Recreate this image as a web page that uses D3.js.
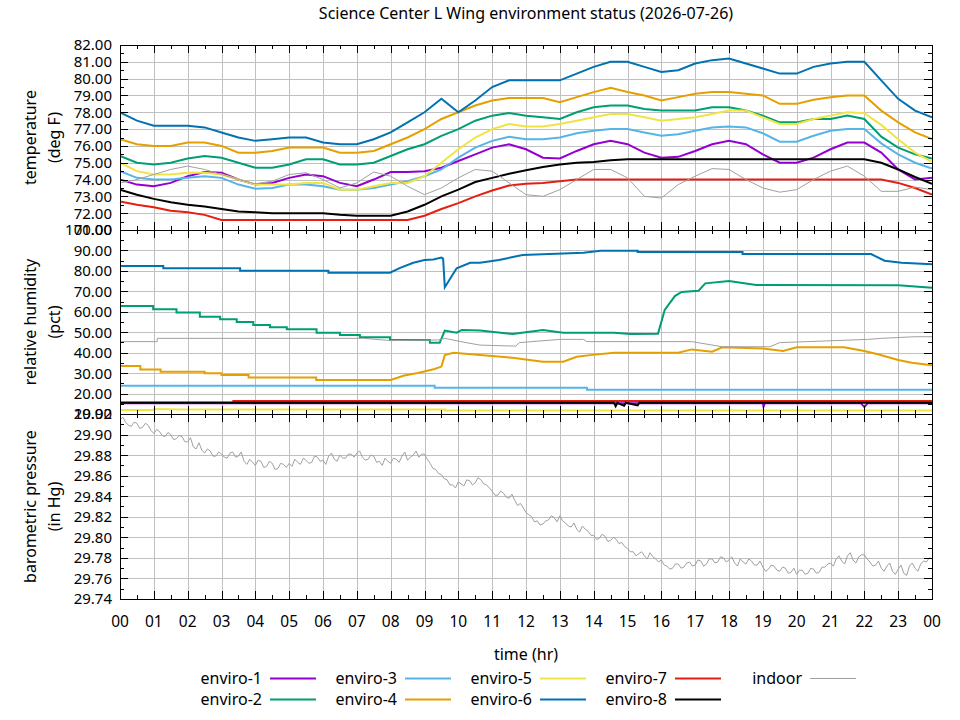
<!DOCTYPE html>
<html>
<head>
<meta charset="utf-8">
<title>Science Center L Wing environment status</title>
<script src="https://d3js.org/d3.v7.min.js"></script>
<style>
  body { margin: 0; background: #fff; }
  svg { font-family: "Noto Sans", "Open Sans", sans-serif; }
</style>
</head>
<body>
<svg id="chart" width="960" height="720"></svg>
<script>
// Science Center L Wing environment status - three stacked panels sharing one time axis

const chartTitle = 'Science Center L Wing environment status (2026-07-26)';
const seriesNames = ['enviro-1', 'enviro-2', 'enviro-3', 'enviro-4', 'enviro-5', 'enviro-6', 'enviro-7', 'enviro-8', 'indoor'];
const seriesColors = ['#9400d3', '#009e73', '#56b4e9', '#e69f00', '#f0e442', '#0072b2', '#e51e10', '#000000', '#a0a0a0'];

// tick labels
const hourTicks = [0, 1, 2, 3, 4, 5, 6, 7, 8, 9, 10, 11, 12, 13, 14, 15, 16, 17, 18, 19, 20, 21, 22, 23, 24];
const tempTicks = [71, 72, 73, 74, 75, 76, 77, 78, 79, 80, 81, 82];
const humidityTicks = [10, 20, 30, 40, 50, 60, 70, 80, 90, 100];
const pressureTicks = [29.74, 29.76, 29.78, 29.80, 29.82, 29.84, 29.86, 29.88, 29.90, 29.92];

// temperature (deg F), one reading every half hour from 00:00 to 24:00
const temp1 = [74.0, 73.7, 73.6, 73.8, 74.2, 74.45, 74.4, 74.0, 73.7, 73.8, 74.1, 74.3, 74.2, 73.8, 73.6, 74.0, 74.45, 74.45, 74.5, 74.7, 75.1, 75.5, 75.9, 76.1, 75.8, 75.3, 75.25, 75.7, 76.1, 76.3, 76.1, 75.6, 75.3, 75.35, 75.7, 76.1, 76.3, 76.1, 75.5, 75.0, 75.0, 75.3, 75.8, 76.2, 76.2, 75.6, 74.6, 74.0, 74.1];
const temp2 = [75.4, 75.0, 74.9, 75.0, 75.25, 75.4, 75.3, 75.0, 74.7, 74.7, 74.9, 75.2, 75.2, 74.9, 74.9, 75.0, 75.4, 75.8, 76.1, 76.6, 77.0, 77.5, 77.8, 77.95, 77.8, 77.7, 77.6, 78.0, 78.3, 78.4, 78.4, 78.2, 78.1, 78.1, 78.1, 78.3, 78.3, 78.1, 77.8, 77.4, 77.4, 77.6, 77.6, 77.8, 77.6, 76.55, 75.9, 75.5, 75.25];
const temp3 = [74.5, 74.1, 74.0, 74.0, 74.1, 74.2, 74.1, 73.7, 73.45, 73.5, 73.7, 73.7, 73.6, 73.4, 73.4, 73.5, 73.7, 73.9, 74.2, 74.6, 75.3, 75.9, 76.3, 76.55, 76.4, 76.4, 76.5, 76.75, 76.9, 77.0, 77.0, 76.8, 76.6, 76.7, 76.9, 77.1, 77.15, 77.1, 76.75, 76.25, 76.25, 76.6, 76.9, 77.0, 77.0, 76.15, 75.5, 75.0, 74.65];
const temp4 = [76.4, 76.1, 76.0, 76.0, 76.2, 76.2, 76.0, 75.6, 75.6, 75.7, 75.9, 75.9, 75.9, 75.6, 75.6, 75.7, 76.1, 76.5, 77.0, 77.6, 78.0, 78.4, 78.7, 78.85, 78.85, 78.85, 78.6, 78.9, 79.2, 79.45, 79.2, 79.0, 78.7, 78.9, 79.1, 79.2, 79.2, 79.1, 79.0, 78.5, 78.5, 78.75, 78.9, 79.0, 79.0, 78.1, 77.4, 76.8, 76.4];
const temp5 = [75.0, 74.5, 74.3, 74.3, 74.4, 74.4, 74.3, 74.0, 73.7, 73.7, 73.7, 73.8, 73.8, 73.4, 73.4, 73.6, 73.8, 73.8, 74.2, 75.0, 75.8, 76.5, 77.0, 77.3, 77.15, 77.15, 77.3, 77.5, 77.7, 77.9, 77.9, 77.7, 77.5, 77.6, 77.7, 77.9, 78.1, 78.1, 77.7, 77.3, 77.3, 77.6, 77.8, 78.0, 77.95, 77.25, 76.4, 75.6, 75.05];
const temp6 = [78.0, 77.5, 77.2, 77.2, 77.2, 77.1, 76.8, 76.5, 76.3, 76.4, 76.5, 76.5, 76.2, 76.1, 76.1, 76.4, 76.8, 77.4, 78.0, 78.8, 78.0, 78.7, 79.5, 79.9, 79.9, 79.9, 79.9, 80.3, 80.7, 81.0, 81.0, 80.7, 80.4, 80.5, 80.9, 81.1, 81.2, 80.9, 80.6, 80.3, 80.3, 80.7, 80.9, 81.0, 81.0, 79.9, 78.8, 78.1, 77.7];
const temp7 = [72.7, 72.5, 72.35, 72.15, 72.05, 71.9, 71.6, 71.6, 71.6, 71.6, 71.6, 71.6, 71.6, 71.6, 71.6, 71.6, 71.6, 71.6, 71.85, 72.25, 72.6, 73.0, 73.35, 73.65, 73.75, 73.8, 73.9, 74.0, 74.0, 74.0, 74.0, 74.0, 74.0, 74.0, 74.0, 74.0, 74.0, 74.0, 74.0, 74.0, 74.0, 74.0, 74.0, 74.0, 74.0, 74.0, 73.8, 73.5, 73.1];
const temp8 = [73.4, 73.1, 72.85, 72.65, 72.5, 72.4, 72.25, 72.1, 72.05, 72.0, 72.0, 72.0, 72.0, 71.9, 71.85, 71.85, 71.85, 72.1, 72.5, 73.0, 73.4, 73.85, 74.1, 74.35, 74.55, 74.75, 74.9, 75.0, 75.05, 75.15, 75.2, 75.2, 75.2, 75.2, 75.2, 75.2, 75.2, 75.2, 75.2, 75.2, 75.2, 75.2, 75.2, 75.2, 75.2, 75.0, 74.6, 74.15, 73.75];
const tempIndoor = [73.8, 74.0, 74.3, 74.6, 74.8, 74.6, 74.3, 74.0, 73.75, 73.9, 74.3, 74.4, 74.0, 73.5, 73.8, 74.45, 74.2, 73.6, 73.1, 73.5, 74.1, 74.6, 74.5, 73.8, 73.1, 73.0, 73.4, 74.0, 74.6, 74.6, 74.1, 73.0, 72.9, 73.7, 74.2, 74.65, 74.6, 74.0, 73.5, 73.25, 73.4, 74.0, 74.5, 74.8, 74.2, 73.3, 73.3, 73.55, 73.4];

// relative humidity (pct), [hour, value] breakpoints
const hum1 = [[0, 15.3], [19.0, 15.3], [19.02, 13.6], [19.06, 15.3], [21.9, 15.3], [22.0, 13.4], [22.1, 15.3], [24, 15.3]];
const hum2 = [[0, 62.8], [0.98, 62.8], [0.98, 61.2], [1.67, 61.2], [1.67, 59.6], [2.36, 59.6], [2.36, 57.6], [2.96, 57.6], [2.96, 56.3], [3.45, 56.3], [3.45, 55.0], [3.94, 55.0], [3.94, 53.5], [4.43, 53.5], [4.43, 52.4], [4.93, 52.4], [4.93, 51.4], [5.81, 51.4], [5.81, 49.8], [6.5, 49.8], [6.5, 48.6], [7.09, 48.6], [7.09, 47.5], [7.98, 47.5], [7.98, 46.2], [9.16, 46.2], [9.16, 44.9], [9.45, 44.9], [9.6, 50.8], [9.95, 49.8], [10.1, 51.1], [10.64, 50.8], [11.6, 49.1], [12.5, 51.1], [13.1, 49.8], [14.6, 49.8], [15.1, 49.1], [15.9, 49.3], [16.1, 60.9], [16.4, 67.7], [16.6, 69.7], [17.1, 70.3], [17.3, 73.9], [18.0, 75.0], [18.8, 73.1], [23.0, 73.0], [24, 71.8]];
const hum3 = [[0, 23.8], [9.3, 23.8], [9.3, 22.9], [13.8, 22.9], [13.8, 21.9], [24, 21.9]];
const hum4 = [[0, 33.5], [0.6, 33.5], [0.6, 31.8], [1.2, 31.8], [1.2, 30.7], [2.5, 30.7], [2.5, 29.9], [3.0, 29.9], [3.0, 29.1], [3.8, 29.1], [3.8, 27.9], [5.8, 27.9], [5.8, 26.6], [8.0, 26.6], [8.4, 28.8], [8.8, 30.1], [9.3, 32.0], [9.5, 33.2], [9.6, 38.8], [9.85, 40.0], [10.64, 38.8], [11.6, 37.5], [12.5, 35.6], [13.1, 35.6], [13.5, 38.0], [13.9, 38.8], [14.6, 40.0], [16.5, 40.0], [16.9, 41.6], [17.5, 40.5], [17.8, 42.6], [19.0, 42.0], [19.6, 40.8], [20.0, 42.6], [21.4, 42.6], [22.0, 40.8], [22.4, 39.2], [23.0, 36.4], [23.4, 35.1], [24, 33.8]];
const hum5 = [[0, 11.9], [1.0, 11.9], [1.0, 12.4], [1.8, 12.2], [9.6, 12.2], [9.6, 11.7], [24, 11.7]];
const hum6 = [[0, 82.4], [1.28, 82.4], [1.28, 81.3], [3.55, 81.3], [3.55, 80.1], [6.16, 80.1], [6.16, 79.1], [7.98, 79.1], [8.28, 81.5], [8.67, 84.0], [9.0, 85.3], [9.26, 85.6], [9.5, 86.5], [9.55, 86.0], [9.6, 72.0], [9.95, 81.3], [10.35, 84.0], [10.64, 84.0], [11.2, 85.3], [11.9, 87.8], [13.7, 88.9], [14.2, 89.9], [15.3, 89.9], [15.3, 89.2], [18.4, 89.2], [18.4, 88.2], [22.2, 88.2], [22.6, 85.0], [23.1, 84.0], [24, 83.3]];
const hum7 = [[0, 15.6], [3.35, 15.6], [3.35, 16.3], [24, 16.3]];
const hum8 = [[0, 15.5], [14.6, 15.5], [14.65, 13.8], [14.7, 15.5], [14.9, 14.0], [14.95, 15.5], [15.3, 14.2], [15.35, 15.5], [24, 15.5]];
const humIndoor = [[0, 45.4], [1.1, 45.4], [1.1, 47.0], [7.2, 47.0], [8.0, 45.9], [9.4, 46.2], [9.6, 47.0], [10.2, 45.0], [10.64, 43.7], [11.7, 43.2], [11.8, 44.9], [13.0, 46.5], [13.7, 46.5], [13.8, 45.4], [16.9, 45.4], [17.8, 42.9], [19.2, 42.9], [19.5, 44.9], [22.1, 46.5], [22.5, 47.0], [23.5, 47.8], [24, 47.8]];

// barometric pressure (in Hg), indoor only, one reading every 5 minutes (12 per row = 1 hour)
const pressureIndoor = [
  29.914, 29.917, 29.912, 29.909, 29.908, 29.912, 29.911, 29.906, 29.907, 29.911, 29.909, 29.904,
  29.901, 29.905, 29.903, 29.899, 29.898, 29.902, 29.900, 29.895, 29.896, 29.899, 29.898, 29.893,
  29.893, 29.897, 29.888, 29.886, 29.892, 29.885, 29.882, 29.886, 29.884, 29.879, 29.879, 29.883,
  29.881, 29.878, 29.877, 29.882, 29.883, 29.878, 29.879, 29.883, 29.874, 29.871, 29.876, 29.873,
  29.870, 29.875, 29.874, 29.868, 29.869, 29.874, 29.872, 29.866, 29.867, 29.872, 29.871, 29.868,
  29.872, 29.869, 29.876, 29.873, 29.871, 29.877, 29.875, 29.872, 29.873, 29.879, 29.878, 29.874,
  29.875, 29.871, 29.879, 29.882, 29.876, 29.874, 29.880, 29.877, 29.877, 29.881, 29.881, 29.878,
  29.882, 29.884, 29.878, 29.875, 29.876, 29.880, 29.879, 29.873, 29.874, 29.870, 29.877, 29.874,
  29.872, 29.877, 29.876, 29.873, 29.879, 29.883, 29.875, 29.878, 29.880, 29.884, 29.878, 29.881,
  29.881, 29.876, 29.872, 29.867, 29.866, 29.862, 29.861, 29.857, 29.856, 29.851, 29.851, 29.848,
  29.854, 29.852, 29.850, 29.856, 29.855, 29.851, 29.853, 29.858, 29.856, 29.852, 29.851, 29.848,
  29.845, 29.841, 29.841, 29.845, 29.843, 29.839, 29.838, 29.842, 29.836, 29.831, 29.833, 29.829,
  29.824, 29.822, 29.820, 29.815, 29.816, 29.812, 29.813, 29.816, 29.817, 29.821, 29.819, 29.815,
  29.821, 29.816, 29.814, 29.811, 29.810, 29.814, 29.808, 29.805, 29.811, 29.808, 29.806, 29.802,
  29.802, 29.798, 29.799, 29.803, 29.801, 29.796, 29.797, 29.800, 29.798, 29.794, 29.795, 29.791,
  29.789, 29.786, 29.786, 29.782, 29.784, 29.786, 29.782, 29.779, 29.785, 29.781, 29.779, 29.776,
  29.778, 29.773, 29.772, 29.769, 29.770, 29.774, 29.774, 29.770, 29.771, 29.775, 29.776, 29.772,
  29.773, 29.778, 29.777, 29.772, 29.774, 29.779, 29.779, 29.775, 29.776, 29.781, 29.780, 29.776,
  29.778, 29.781, 29.775, 29.772, 29.779, 29.776, 29.774, 29.779, 29.777, 29.773, 29.773, 29.777,
  29.771, 29.767, 29.769, 29.773, 29.772, 29.768, 29.767, 29.771, 29.770, 29.765, 29.766, 29.770,
  29.764, 29.768, 29.768, 29.764, 29.765, 29.770, 29.769, 29.765, 29.766, 29.771, 29.771, 29.774,
  29.775, 29.772, 29.779, 29.782, 29.777, 29.774, 29.782, 29.785, 29.778, 29.775, 29.781, 29.783,
  29.783, 29.779, 29.776, 29.772, 29.773, 29.777, 29.770, 29.767, 29.772, 29.775, 29.767, 29.764,
  29.769, 29.773, 29.765, 29.763, 29.772, 29.775, 29.770, 29.767, 29.774, 29.777, 29.776, 29.780,
  29.779
];

// Layout
const left = 120;
const right = 932;
const tickMajor = 8;
const tickMinor = 4;

const svg = d3.select('#chart');

const x = d3.scaleLinear().domain([0, 24]).range([left, right]);

// pair each reading up with its time of day
const halfHourly = values => values.map((v, i) => [i * 0.5, v]);
const fiveMinutely = values => values.map((v, i) => [i / 12, v]);

const panels = [
  {
    top: 45, bottom: 230, domain: [71, 82], ticks: tempTicks, minorStep: 0.5,
    label: ['temperature', '(deg F)'],
    series: [temp1, temp2, temp3, temp4, temp5, temp6, temp7, temp8, tempIndoor].map(halfHourly)
  },
  {
    top: 230, bottom: 414, domain: [10, 100], ticks: humidityTicks, minorStep: 5,
    label: ['relative humidity', '(pct)'],
    series: [hum1, hum2, hum3, hum4, hum5, hum6, hum7, hum8, humIndoor]
  },
  {
    top: 414, bottom: 599, domain: [29.74, 29.92], ticks: pressureTicks, minorStep: 0.01,
    label: ['barometric pressure', '(in Hg)'],
    series: [null, null, null, null, null, null, null, null, fiveMinutely(pressureIndoor)]
  }
];

// Title
svg.append('text')
  .attr('x', (left + right) / 2)
  .attr('y', 19)
  .attr('text-anchor', 'middle')
  .style('font-size', '16px')
  .style('fill', '#000')
  .text(chartTitle);

// minor hour ticks sit halfway between the labelled hours
const halfHours = hourTicks.slice(0, -1).map(h => h + 0.5);

panels.forEach((p, pi) => {
  const y = d3.scaleLinear().domain(p.domain).range([p.bottom, p.top]);
  const g = svg.append('g').attr('class', 'panel');

  // grid
  g.append('g').selectAll('line.vgrid')
    .data(hourTicks.slice(1, -1))
    .enter().append('line')
    .attr('x1', d => Math.round(x(d)) + 0.5).attr('x2', d => Math.round(x(d)) + 0.5)
    .attr('y1', p.top).attr('y2', p.bottom)
    .attr('stroke', '#c0c0c0').attr('stroke-width', 1);

  g.append('g').selectAll('line.hgrid')
    .data(p.ticks.slice(1, -1))
    .enter().append('line')
    .attr('x1', left).attr('x2', right)
    .attr('y1', d => Math.round(y(d)) + 0.5).attr('y2', d => Math.round(y(d)) + 0.5)
    .attr('stroke', '#c0c0c0').attr('stroke-width', 1);

  // clip region for the data lines
  const clipId = 'clip' + pi;
  svg.append('defs').append('clipPath')
    .attr('id', clipId)
    .append('rect')
    .attr('x', left).attr('y', p.top)
    .attr('width', right - left).attr('height', p.bottom - p.top);

  const line = d3.line()
    .x(d => x(d[0]))
    .y(d => y(d[1]));

  const lines = g.append('g').attr('clip-path', `url(#${clipId})`);
  p.series.forEach((s, si) => {
    if (!s) return;
    lines.append('path')
      .datum(s)
      .attr('d', line)
      .attr('fill', 'none')
      .attr('stroke', seriesColors[si])
      .attr('stroke-width', si === 8 ? 1 : 2)
      .attr('stroke-linejoin', 'miter');
  });

  // ticks, drawn inward on all four sides
  const ticks = g.append('g').attr('stroke', '#000').attr('stroke-width', 1);
  hourTicks.forEach(h => {
    const xx = Math.round(x(h)) + 0.5;
    ticks.append('line').attr('x1', xx).attr('x2', xx).attr('y1', p.top).attr('y2', p.top + tickMajor);
    ticks.append('line').attr('x1', xx).attr('x2', xx).attr('y1', p.bottom).attr('y2', p.bottom - tickMajor);
  });
  halfHours.forEach(h => {
    const xx = Math.round(x(h)) + 0.5;
    ticks.append('line').attr('x1', xx).attr('x2', xx).attr('y1', p.top).attr('y2', p.top + tickMinor);
    ticks.append('line').attr('x1', xx).attr('x2', xx).attr('y1', p.bottom).attr('y2', p.bottom - tickMinor);
  });
  p.ticks.forEach(t => {
    const yy = Math.round(y(t)) + 0.5;
    ticks.append('line').attr('x1', left).attr('x2', left + tickMajor).attr('y1', yy).attr('y2', yy);
    ticks.append('line').attr('x1', right).attr('x2', right - tickMajor).attr('y1', yy).attr('y2', yy);
  });
  p.ticks.slice(0, -1).forEach(t => {
    const yy = Math.round(y(t + p.minorStep)) + 0.5;
    ticks.append('line').attr('x1', left).attr('x2', left + tickMinor).attr('y1', yy).attr('y2', yy);
    ticks.append('line').attr('x1', right).attr('x2', right - tickMinor).attr('y1', yy).attr('y2', yy);
  });

  // border
  g.append('rect')
    .attr('x', left + 0.5).attr('y', p.top + 0.5)
    .attr('width', right - left).attr('height', p.bottom - p.top)
    .attr('fill', 'none')
    .attr('stroke', '#000')
    .attr('stroke-width', 1);

  // y tick labels (the ones on shared borders overprint, as in the original)
  g.append('g').selectAll('text')
    .data(p.ticks)
    .enter().append('text')
    .attr('x', 112)
    .attr('y', d => y(d))
    .attr('dy', '0.36em')
    .attr('text-anchor', 'end')
    .style('font-size', '15px')
    .style('fill', '#000')
    .text(d => d3.format('.2f')(d));

  // y axis title on two lines
  const mid = (p.top + p.bottom) / 2;
  p.label.forEach((txt, li) => {
    g.append('text')
      .attr('transform', `translate(${30 + li * 24},${mid}) rotate(-90)`)
      .attr('text-anchor', 'middle')
      .attr('dy', '0.36em')
      .style('font-size', '16px')
      .style('fill', '#000')
      .text(txt);
  });
});

// x tick labels under the bottom panel
svg.append('g').selectAll('text')
  .data(hourTicks)
  .enter().append('text')
  .attr('x', d => x(d))
  .attr('y', 621)
  .attr('dy', '0.36em')
  .attr('text-anchor', 'middle')
  .style('font-size', '15.5px')
  .style('fill', '#000')
  .text(d => d3.format('02d')(d % 24));

svg.append('text')
  .attr('x', (left + right) / 2)
  .attr('y', 654)
  .attr('dy', '0.36em')
  .attr('text-anchor', 'middle')
  .style('font-size', '16px')
  .style('fill', '#000')
  .text('time (hr)');

// Legend: two rows, filled column by column
const legend = svg.append('g').attr('class', 'legend');
seriesNames.forEach((name, i) => {
  const col = Math.floor(i / 2);
  const row = i % 2;
  const textEnd = 262 + col * 135;
  const yy = 678 + row * 21;
  legend.append('text')
    .attr('x', textEnd)
    .attr('y', yy)
    .attr('dy', '0.36em')
    .attr('text-anchor', 'end')
    .style('font-size', '16px')
    .style('fill', '#000')
    .text(name);
  legend.append('line')
    .attr('x1', textEnd + 8).attr('x2', textEnd + 54)
    .attr('y1', yy + 0.5).attr('y2', yy + 0.5)
    .attr('stroke', seriesColors[i])
    .attr('stroke-width', i === 8 ? 1 : 2);
});
</script>
</body>
</html>
